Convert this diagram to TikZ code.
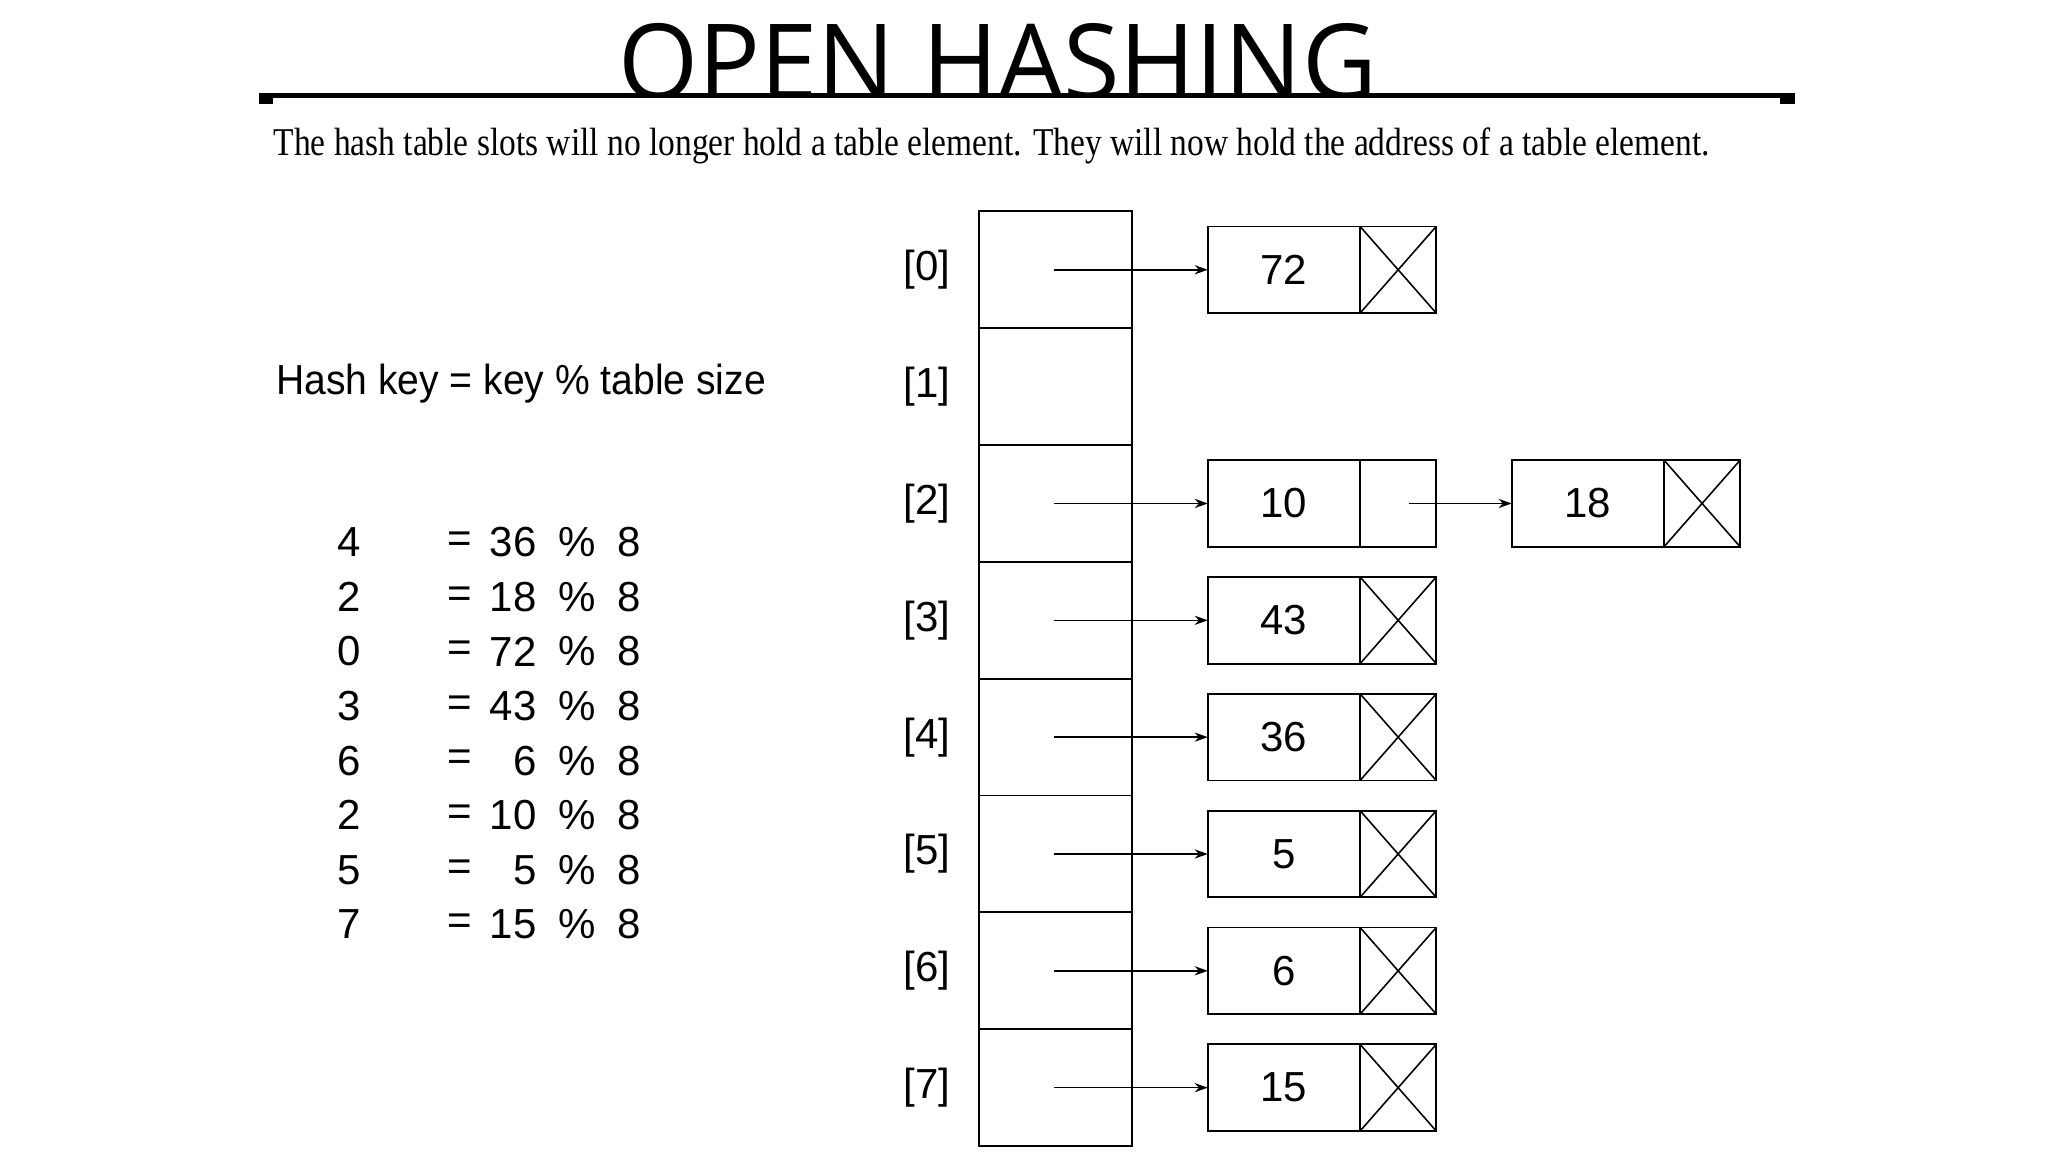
\documentclass[tikz,border=0pt]{standalone}
\usepackage{fontspec}
\setmainfont{Liberation Sans}
\newfontfamily\titlefont{Open Sans}
\newfontfamily\seriffont{Liberation Serif}
\usetikzlibrary{arrows.meta}
\begin{document}
\begin{tikzpicture}[x=0.5pt,y=-0.5pt,
  slot/.style={draw,line width=0.7pt,minimum width=58pt,minimum height=44.5pt,inner sep=0,outer sep=0},
  val/.style={draw,line width=0.7pt,minimum width=58pt,minimum height=33pt,inner sep=0,outer sep=0,font=\fontsize{16}{18}\selectfont},
  ptr/.style={draw,line width=0.7pt,minimum width=29pt,minimum height=33pt,inner sep=0,outer sep=0},
  lbl/.style={font=\fontsize{16}{18}\selectfont},
  eq/.style={font=\fontsize{16}{18}\selectfont,inner sep=0},
  arr/.style={-{Stealth[length=5pt,width=3.5pt]},line width=0.6pt}]
\useasboundingbox (0,0) rectangle (1560,877);
% title
\begin{scope}
\clip (0,0) rectangle (1560,73);
\node[font=\titlefont\fontsize{40}{44}\selectfont,anchor=base] (title) at (760,76) {\scalebox{0.98}[1]{OPEN HASHING}};
\end{scope}
\fill (197,71) rectangle (1367,75);
\fill (197,71) rectangle (208,79);
\fill (1356,71) rectangle (1367,79);
\node[anchor=west,inner sep=0] (sub) at (208,111) {\seriffont\fontsize{15}{17}\selectfont\scalebox{0.85}[1]{The hash table slots will no longer hold a table element. They will now hold the address of a table element.}};
\node[anchor=west,inner sep=0] (hk) at (210,292) {\fontsize{16}{18}\selectfont\scalebox{0.93}[1]{Hash key = key \% table size}};
\foreach \a/\v [count=\i from 0] in {4/36,2/18,0/72,3/43,6/6,2/10,5/5,7/15}{
  \pgfmathsetmacro\yy{413+41.6*\i}
  \node[eq] (ea\i) at (266,\yy) {\a};
  \node[eq] (ee\i) at (350,\yy) {=};
  \node[eq,anchor=east] (ev\i) at (409,\yy) {\v};
  \node[eq] (ep\i) at (440,\yy) {\%};
  \node[eq] (e8\i) at (479,\yy) {8};
}
\foreach \i in {0,...,7}{
  \pgfmathsetmacro\yy{205.5+89*\i}
  \node[slot] (s\i) at (804,\yy) {};
  \node[lbl] (l\i) at (706,\yy) {[\i]};
  \coordinate (c\i) at (803,\yy);
}
\foreach \i/\v in {0/72,2/10,3/43,4/36,5/5,6/6,7/15}{
  \node[val] (v\i) at (978,205.5+89*\i) {\v};
  \node[ptr,anchor=west] (p\i) at (v\i.east) {};
  \draw[arr] (c\i) -- (v\i.west);
}
\foreach \i in {0,3,4,5,6,7}{
  \draw[line width=0.6pt] (p\i.north west) -- (p\i.south east) (p\i.south west) -- (p\i.north east);
}
\node[val] (w2) at (1209.5,383.5) {18};
\node[ptr,anchor=west] (q2) at (w2.east) {};
\draw[line width=0.6pt] (q2.north west) -- (q2.south east) (q2.south west) -- (q2.north east);
\coordinate (d2) at (1073,383.5);
\draw[arr] (d2) -- (w2.west);
\end{tikzpicture}
\end{document}
